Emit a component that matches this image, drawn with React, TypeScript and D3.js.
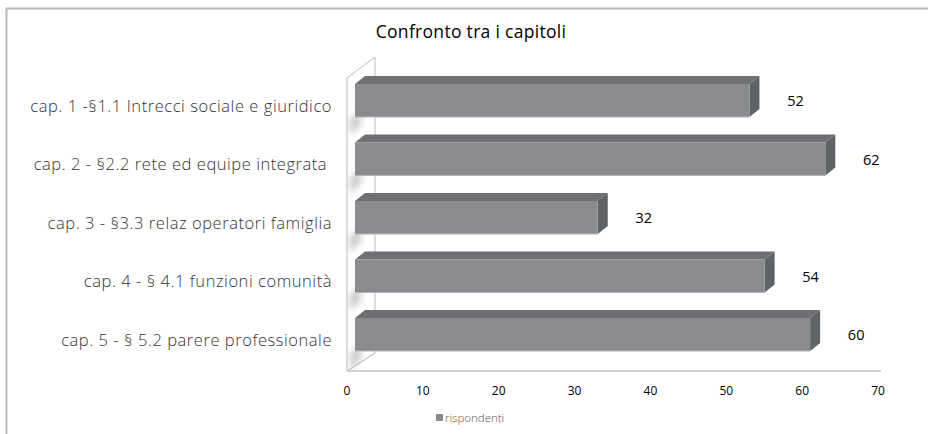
import React from "react";
import * as d3 from "d3";

const categories = [
  "cap. 1 -§1.1 Intrecci sociale e giuridico",
  "cap. 2 - §2.2 rete ed equipe integrata ",
  "cap. 3 - §3.3 relaz operatori famiglia",
  "cap. 4 - § 4.1 funzioni comunità",
  "cap. 5 - § 5.2 parere professionale",
];
const values = [52, 62, 32, 54, 60];
const tickValues = [0, 10, 20, 30, 40, 50, 60, 70];
const seriesName = "rispondenti";
const title = "Confronto tra i capitoli";

const W = 928;
const H = 434;

export default function App() {
  const x = d3.scaleLinear().domain([0, 70]).range([347, 878]);
  const y = d3
    .scaleBand<string>()
    .domain(categories)
    .range([84, 351])
    .paddingInner(0.436)
    .paddingOuter(0);
  const bw = y.bandwidth();
  const wallDx = 28;
  const wallDy = 21;
  const barOff = 8;
  const bdx = 10;
  const bdy = 8;

  const floorY = 371;
  const wallTop = 78;

  return (
    <div style={{ position: "fixed", left: 0, top: 0, width: W, height: H, background: "#fff" }}>
      <svg width={W} height={H} style={{ display: "block" }}>
        <defs>
          <filter id="blur" x="-50%" y="-50%" width="200%" height="200%">
            <feGaussianBlur stdDeviation="3" />
          </filter>
        </defs>
        <rect x={6.5} y={8.5} width={1000} height={1000} fill="#fff" stroke="#b9b9b9" strokeWidth={2} />

        <text
          x={471}
          y={38}
          textAnchor="middle"
          fontFamily="Open Sans, Liberation Sans, sans-serif"
          fontSize={17.5}
          letterSpacing={0.3}
          fill="#000"
        >
          {title}
        </text>

        <polygon
          points={`${x(0)},${wallTop} ${x(0) + wallDx},${wallTop - wallDy} ${x(0) + wallDx},${floorY - wallDy + 3} ${x(0)},${floorY}`}
          fill="#fff"
          stroke="#bcbcbc"
          strokeWidth={1}
        />
        {categories.map((c, i) => {
          const yb = (y(c) as number) + bw;
          return (
            <polygon
              key={"sh" + i}
              points={`${x(0) + 3},${yb + 2} ${x(0) + 14},${yb - 6} ${x(0) + 14},${yb + 8} ${x(0) + 3},${yb + 18}`}
              fill="#b5b5b5"
              filter="url(#blur)"
              opacity={0.7}
            />
          );
        })}
        <line x1={x(0)} y1={floorY} x2={x(70) + 3} y2={floorY} stroke="#c4c4c4" strokeWidth={1.5} />
        <line x1={x(0)} y1={floorY} x2={x(0) + wallDx} y2={floorY - wallDy + 3} stroke="#c4c4c4" strokeWidth={1} />

        {categories.map((c, i) => {
          const yt = y(c) as number;
          const x0 = x(0) + barOff;
          const x1 = x(values[i]) + barOff;
          const yb = yt + bw;
          return (
            <g key={"bar" + i}>
              <polygon
                points={`${x0},${yt} ${x0 + bdx},${yt - bdy} ${x1 + bdx},${yt - bdy} ${x1},${yt}`}
                fill="#6f7074"
              />
              <polygon
                points={`${x1},${yt} ${x1 + bdx},${yt - bdy} ${x1 + bdx},${yb - bdy} ${x1},${yb}`}
                fill="#5f6266"
              />
              <rect x={x0} y={yt} width={x1 - x0} height={bw} fill="#8a8b8f" />
              <line x1={x0} y1={yb} x2={x1} y2={yb} stroke="#b4b4b6" strokeWidth={1} />
            </g>
          );
        })}

        {categories.map((c, i) => (
          <text
            key={"v" + i}
            x={x(values[i]) + barOff + 46}
            y={(y(c) as number) + bw / 2 + 2}
            textAnchor="middle"
            dominantBaseline="middle"
            fontFamily="Open Sans, Noto Sans, sans-serif"
            fontSize={14.5}
            fill="#000"
          >
            {values[i]}
          </text>
        ))}

        {categories.map((c, i) => (
          <text
            key={"c" + i}
            x={332}
            y={(y(c) as number) + bw / 2 + 7}
            textAnchor="end"
            dominantBaseline="middle"
            fontFamily="Open Sans, Liberation Sans, sans-serif"
            fontWeight={300}
            fontSize={16.5}
            letterSpacing={0.55}
            fill="#333"
            style={{ whiteSpace: "pre" }}
          >
            {c}
          </text>
        ))}

        {tickValues.map((t) => (
          <text
            key={"t" + t}
            x={x(t)}
            y={392}
            textAnchor="middle"
            dominantBaseline="middle"
            fontFamily="Open Sans, Noto Sans, sans-serif"
            fontSize={12}
            fill="#000"
          >
            {t}
          </text>
        ))}

        <rect x={436} y={414} width={7} height={7} fill="#8a8b8f" />
        <text
          x={445}
          y={422}
          fontFamily="Open Sans, Liberation Sans, sans-serif"
          fontWeight={300}
          fontSize={11.5}
          fill="#555"
        >
          {seriesName}
        </text>
      </svg>
    </div>
  );
}
